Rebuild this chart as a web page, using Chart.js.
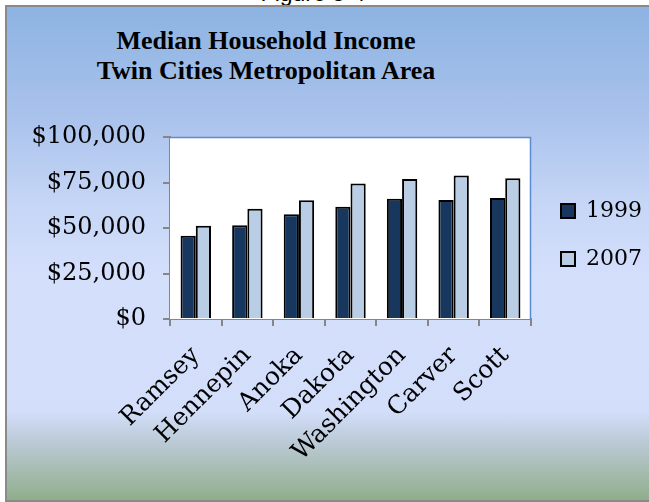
<!DOCTYPE html>
<html>
<head>
<meta charset="utf-8">
<script src="https://cdn.jsdelivr.net/npm/chart.js@4"></script>
<style>
  html, body { margin: 0; padding: 0; background: #ffffff; }
  #wrap { position: relative; width: 649px; height: 502px; overflow: hidden; background: #ffffff; }
  #cap { position: absolute; left: 0; width: 626px; top: -18px; text-align: center;
         font: 23px "Liberation Sans", Arial, sans-serif; line-height: 23px; color: #000; }
  #frame { position: absolute; left: 5px; top: 5px; width: 660px; height: 493px;
           border: 2px solid #8a8a8a; border-right: none;
           background: linear-gradient(to bottom, #8db3e2 0%, #a9c2ec 22%, #c6d6f6 40%, #d4dffc 55%, #d3defa 82%, #bccbd8 88%, #a7bcb2 94%, #8fae8b 100%); }
  #title { position: absolute; left: 0; width: 532px; top: 26px; text-align: center;
           font: bold 26px "Liberation Serif", "Times New Roman", serif; line-height: 30px; color: #000; }
  #chartBox { position: absolute; left: 0; top: 0; width: 649px; height: 502px; }
</style>
</head>
<body>
<div id="wrap">
  <div id="cap">Figure 5-4</div>
  <div id="frame"></div>
  <div id="title">Median Household Income<br>Twin Cities Metropolitan Area</div>
  <div id="chartBox"><canvas id="c"></canvas></div>
</div>
<script>
const categories = ["Ramsey", "Hennepin", "Anoka", "Dakota", "Washington", "Carver", "Scott"];
const seriesNames = ["1999", "2007"];
const income1999 = [45700, 51500, 57600, 61700, 66100, 65400, 66500];
const income2007 = [51300, 60600, 65200, 74400, 76900, 78800, 77300];
const yTicks = [0, 25000, 50000, 75000, 100000];

const serif = "'DejaVu Serif', 'Liberation Serif', serif";

const plotBg = {
  id: 'plotBg',
  beforeDatasetsDraw(chart) {
    const {ctx, chartArea: a} = chart;
    ctx.save();
    ctx.fillStyle = '#ffffff';
    ctx.fillRect(a.left, a.top, a.right - a.left, a.bottom - a.top);
    ctx.strokeStyle = '#5b8bd0';
    ctx.lineWidth = 1.5;
    ctx.beginPath();
    ctx.moveTo(a.left, a.top + 0.5);
    ctx.lineTo(a.right - 0.5, a.top + 0.5);
    ctx.lineTo(a.right - 0.5, a.bottom);
    ctx.stroke();
    ctx.restore();
  }
};

new Chart(document.getElementById('c'), {
  type: 'bar',
  data: {
    labels: categories,
    datasets: [
      { label: seriesNames[0], data: income1999, backgroundColor: '#17375e', borderColor: '#000000', borderWidth: 2,
        barPercentage: 1.0, categoryPercentage: 0.59 },
      { label: seriesNames[1], data: income2007, backgroundColor: '#b9cde5', borderColor: '#000000', borderWidth: 2,
        barPercentage: 1.0, categoryPercentage: 0.59 }
    ]
  },
  options: {
    responsive: true,
    maintainAspectRatio: false,
    animation: false,
    layout: { padding: { top: 137, right: 7, bottom: 0, left: 0 } },
    plugins: {
      title: { display: false },
      tooltip: { enabled: false },
      legend: {
        position: 'right',
        align: 'start',
        title: { display: true, text: ' ', font: { size: 10, lineHeight: 1 }, padding: { top: 27, bottom: 0 } },
        labels: {
          boxWidth: 14, boxHeight: 14, padding: 26,
          color: '#000',
          font: { family: serif, size: 22 }
        }
      }
    },
    scales: {
      x: {
        afterFit(s) { s.height = 183; },
        grid: { drawOnChartArea: false, drawTicks: true, tickLength: 7, color: '#868686', lineWidth: 2, offset: true },
        border: { display: true, color: '#868686', width: 2 },
        ticks: { color: '#000', maxRotation: 45, minRotation: 45, padding: 15, autoSkip: false,
                 font: { family: serif, size: 25 } }
      },
      y: {
        min: yTicks[0], max: yTicks[yTicks.length - 1],
        afterFit(s) { s.width = 170; },
        afterBuildTicks(s) { s.ticks = yTicks.map(v => ({ value: v })); },
        grid: { drawOnChartArea: false, drawTicks: true, tickLength: 7, color: '#868686', lineWidth: 2 },
        border: { display: true, color: '#868686', width: 2 },
        ticks: { color: '#000', padding: 17, font: { family: serif, size: 24 },
                 callback: v => '$' + Number(v).toLocaleString('en-US') }
      },
      gap: {
        type: 'linear',
        position: 'right',
        display: true,
        afterFit(s) { s.width = 4; },
        grid: { display: false, drawTicks: false },
        border: { display: false },
        ticks: { display: false }
      }
    }
  },
  plugins: [plotBg]
});
</script>
</body>
</html>
